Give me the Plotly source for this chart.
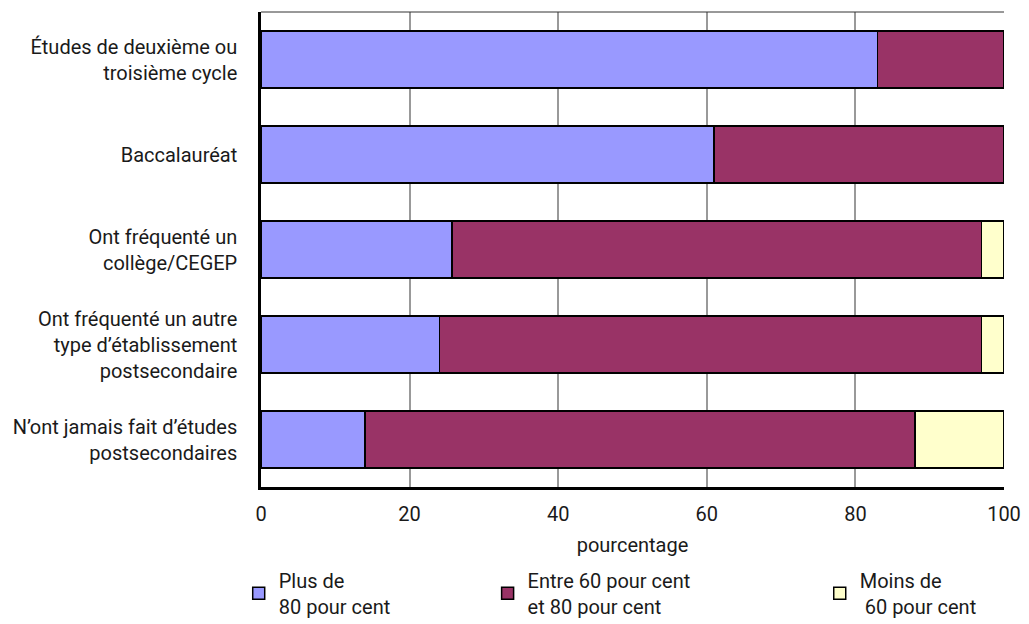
import plotly.graph_objects as go

categories = [
    "Études de deuxième ou<br>troisième cycle",
    "Baccalauréat",
    "Ont fréquenté un<br>collège/CEGEP",
    "Ont fréquenté un autre<br>type d’établissement<br>postsecondaire",
    "N’ont jamais fait d’études<br>postsecondaires",
]
plus_80 = [83, 61, 25.7, 24, 14]
entre_60_80 = [17, 39, 71.3, 73, 74]
moins_60 = [0, 0, 3, 3, 12]

series_names = [
    "Plus de<br>80 pour cent",
    "Entre 60 pour cent<br>et 80 pour cent",
    "Moins de<br> 60 pour cent",
]
colors = ["#9999FF", "#993366", "#FFFFCC"]
x_ticks = [0, 20, 40, 60, 80, 100]

FONT = "Roboto"
TXT = "#1a1a1a"

fig = go.Figure()
legends = ["legend", "legend2", "legend3"]
for vals, name, col, lg in zip([plus_80, entre_60_80, moins_60], series_names, colors, legends):
    fig.add_trace(go.Bar(
        y=categories, x=vals, name=name, orientation="h",
        marker=dict(color=col, line=dict(color="black", width=1.5)),
        legend=lg,
    ))

legend_common = dict(orientation="h", yanchor="top", xanchor="left",
                     font=dict(family=FONT, size=20, color=TXT),
                     bgcolor="rgba(0,0,0,0)", itemwidth=30)
fig.update_layout(
    barmode="stack",
    bargap=0.4,
    width=1029, height=624,
    margin=dict(l=253, r=33, t=4, b=145),
    paper_bgcolor="white", plot_bgcolor="white",
    font=dict(family=FONT, size=19, color=TXT),
    showlegend=True,
    legend=dict(legend_common, x=-0.03, y=-0.155),
    legend2=dict(legend_common, x=0.305, y=-0.155),
    legend3=dict(legend_common, x=0.752, y=-0.155),
    xaxis=dict(range=[0, 100], tickvals=x_ticks, showgrid=True, gridcolor="#999999",
               gridwidth=1.5, showline=True, linecolor="black", linewidth=2.5,
               zeroline=False, ticks="", ticklabelstandoff=7,
               title=dict(text="pourcentage", standoff=14, font=dict(family=FONT, size=20, color=TXT)),
               tickfont=dict(family=FONT, size=20, color=TXT)),
    yaxis=dict(autorange="reversed", showline=True, linecolor="black", linewidth=2.5,
               showgrid=False, ticks="", ticklabelstandoff=17,
               tickfont=dict(family=FONT, size=20, color=TXT)),
    shapes=[dict(type="line", xref="paper", yref="paper", x0=0, x1=1, y0=1, y1=1,
                 line=dict(color="#333333", width=1))],
)

fig.write_html("out.html")
